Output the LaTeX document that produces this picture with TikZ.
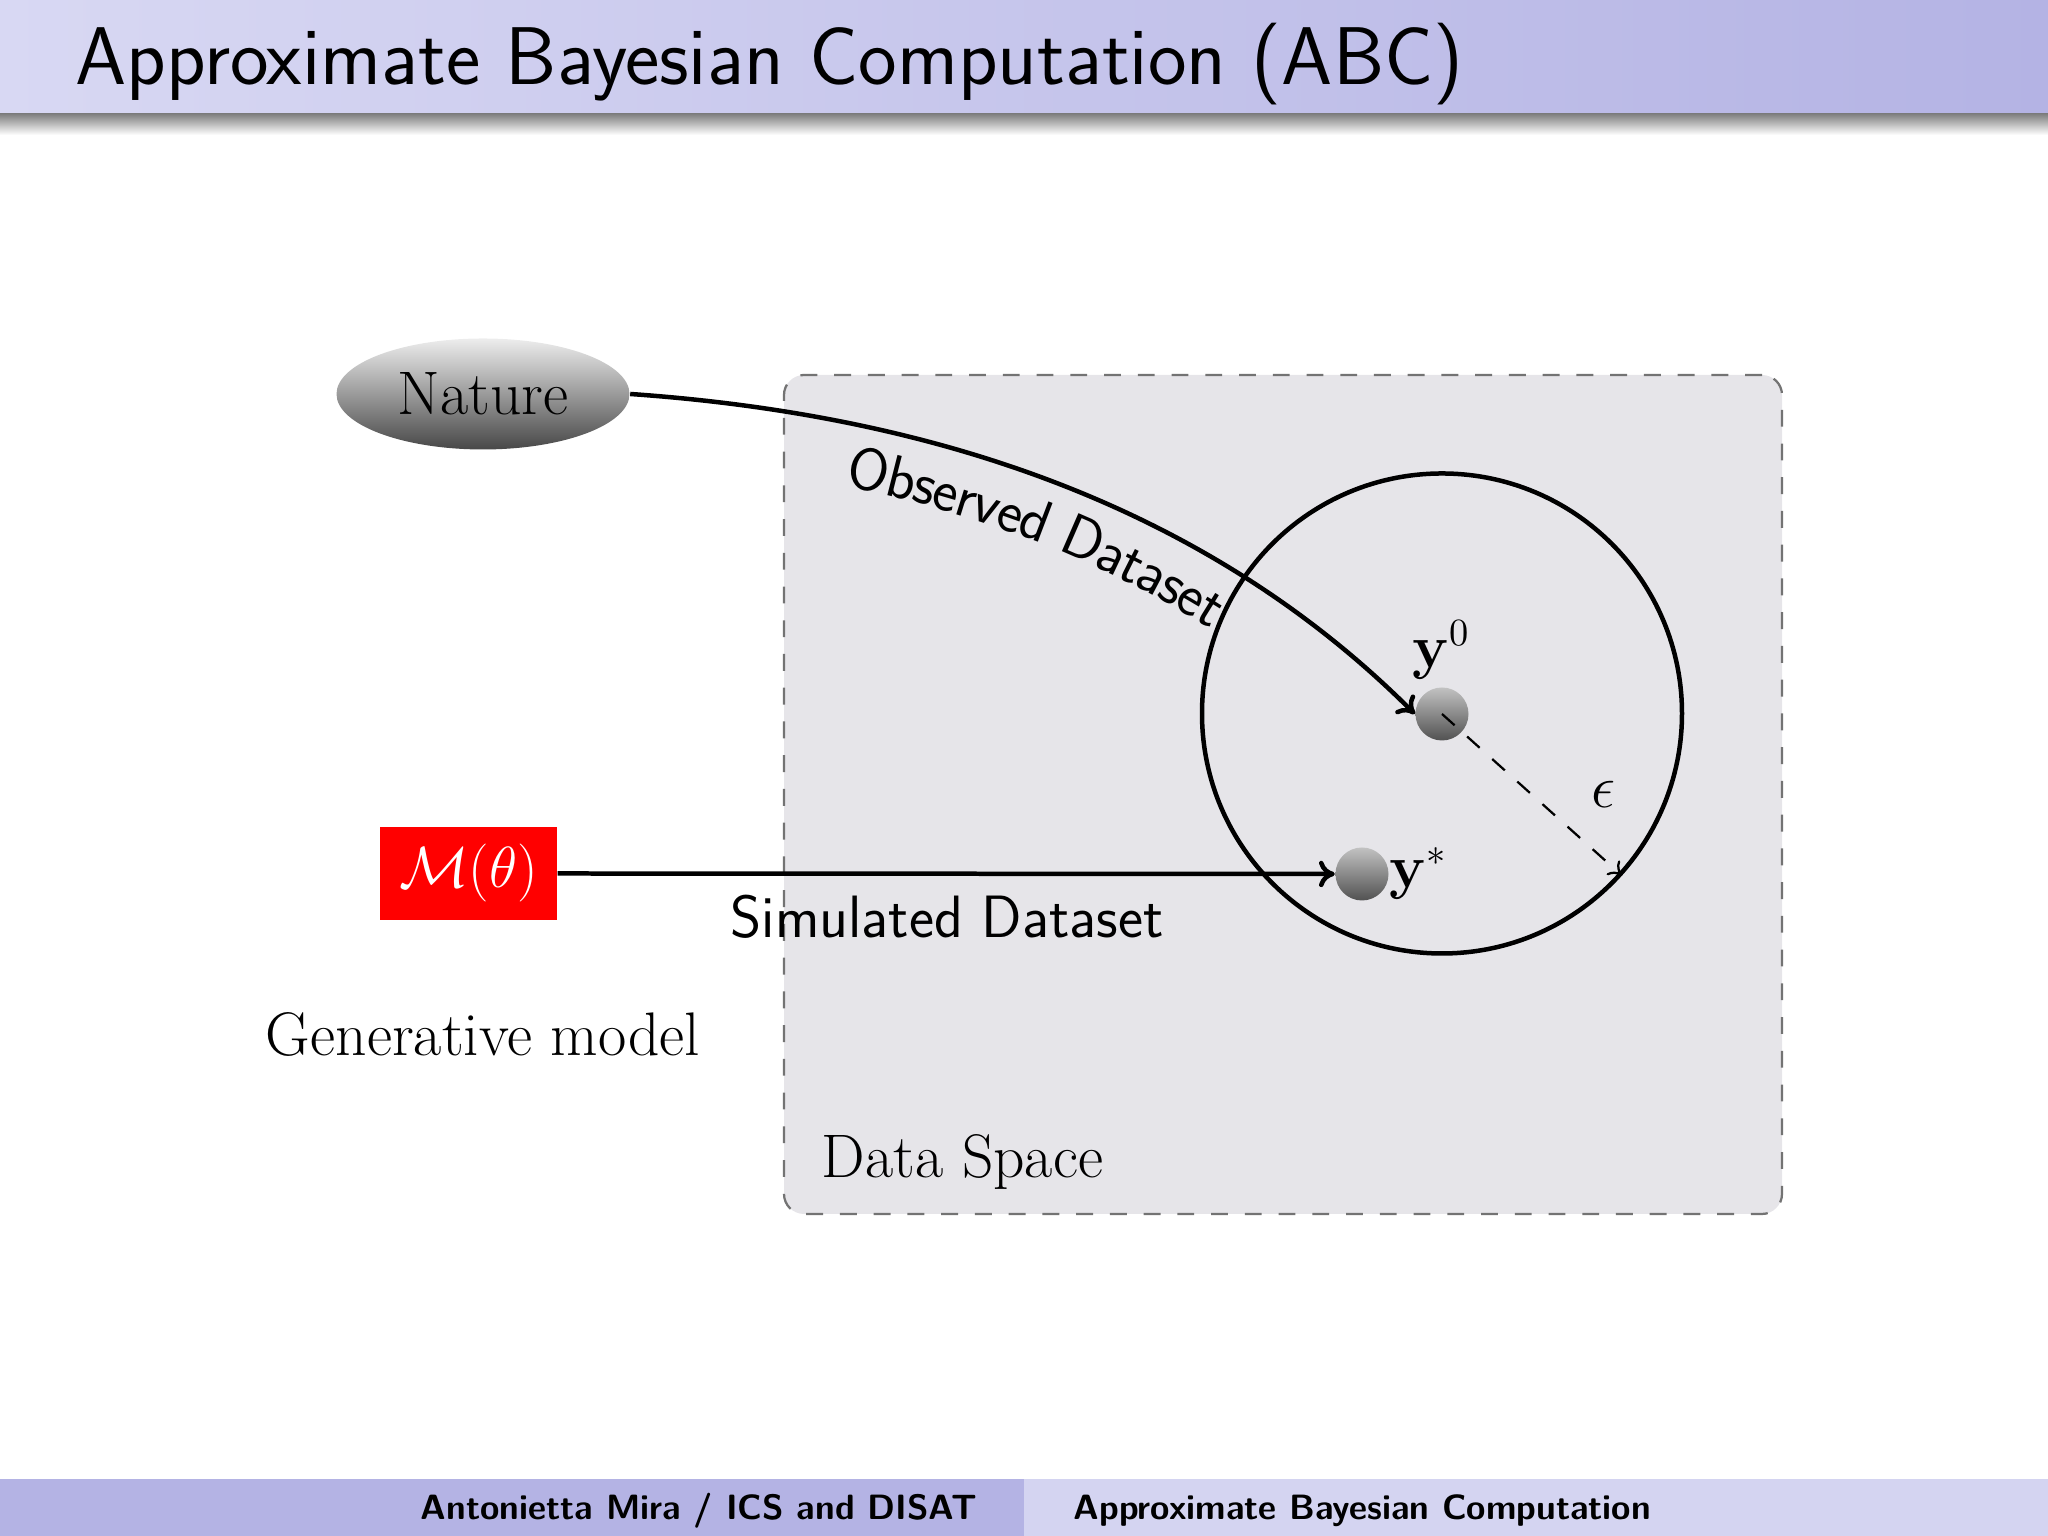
\documentclass[tikz,border=0pt]{standalone}
\usepackage{xcolor}
\usepackage{tikz}
\usetikzlibrary{shapes,arrows,arrows.meta,positioning,decorations.text}

\definecolor{barlight}{HTML}{D8D8F3}
\definecolor{bardark}{HTML}{B4B3E4}
\definecolor{spacegray}{HTML}{E6E5E9}

\tikzset{
    bigtext/.style={font=\fontsize{17.5}{21}\selectfont},
    mathtext/.style={font=\fontsize{16}{19}\selectfont},
    sanstext/.style={font=\fontsize{17}{21}\selectfont\sffamily},
    footertext/.style={font=\fontsize{10}{12}\selectfont\sffamily\bfseries, anchor=base west},
    flow/.style={-{To[length=4.5pt,width=7.5pt]}, line width=1.28pt},
    naturecurve/.style={out=-4, in=135, looseness=0.9},
    ball/.style={circle, minimum size=0.53cm, inner sep=0pt, top color=black!24, bottom color=black!68}
}

\begin{document}
\begin{tikzpicture}
                \useasboundingbox (0,0) rectangle (20.48,15.36);

                % header and footer
                \shade[left color=barlight, right color=bardark] (0,14.22) rectangle (20.48,15.36);
                \shade[top color=black!50, bottom color=white] (0,14.01) rectangle (20.48,14.22);
                \node[anchor=base west, inner sep=0pt, font=\fontsize{23.3}{28}\selectfont\sffamily] (title) at (0.75,14.51) {Approximate Bayesian Computation (ABC)};

                \fill[bardark] (0,0) rectangle (10.24,0.57);
                \fill[barlight!90!bardark] (10.24,0) rectangle (20.48,0.57);
                \node[footertext, inner sep=0pt] (author) at (4.2,0.16) {Antonietta Mira / ICS and DISAT};
                \node[footertext, inner sep=0pt] (talk) at (10.73,0.16) {Approximate Bayesian Computation};

                % data space
                \node[
                    draw=black!55,
                    fill=spacegray,
                    dashed,
                    dash pattern=on 4.8pt off 4.8pt,
                    line width=0.64pt,
                    rounded corners=0.2cm,
                    minimum width=9.98cm,
                    minimum height=8.39cm
                ] (space) at (12.83,7.415) {};
                \node[draw, circle, line width=1.28pt, minimum size=4.8cm] (ring) at (14.42,8.225) {};

                \node[ball] (dotzero) at (14.42,8.22) {};
                \node[ball] (dotstar) at (13.62,6.62) {};

                % sources
                \node[
                    ellipse,
                    bigtext,
                    inner sep=0pt,
                    minimum width=2.93cm,
                    minimum height=1.11cm,
                    top color=black!7,
                    bottom color=black!72
                ] (nature) at (4.83,11.42) {Nature};
                \node[
                    mathtext,
                    fill=red,
                    text=white,
                    inner sep=0pt,
                    minimum width=1.77cm,
                    minimum height=0.93cm
                ] (model) at (4.685,6.625) {\raisebox{-0.03cm}{\scalebox{0.955}{$\mathcal{M}(\theta)$}}};

                % connectors
                \draw[flow] (nature.east) to [naturecurve] (dotzero.west);
                \draw[flow] (model.east) -- (dotstar.west);
                \draw[
                    -{To[length=3.6pt,width=5.5pt]},
                    dashed,
                    dash pattern=on 4.8pt off 4.8pt,
                    line width=0.64pt
                ] (dotzero.center) -- (ring.-42);

                % labels
                \path[
                    decorate,
                    decoration={
                        text along path,
                        raise=-0.62cm,
                        text align={left indent=2.3cm},
                        text={|\fontsize{17}{21}\selectfont\sffamily|Observed Dataset}
                    }
                ] (nature.east) to [naturecurve] (dotzero.west);
                \node[sanstext, anchor=base west, inner sep=0pt] (simulated) at (7.3,5.98) {Simulated Dataset};
                \node[bigtext, anchor=base, inner sep=0pt] (generative) at (4.83,4.80) {Generative model};
                \node[bigtext, anchor=base west, inner sep=0pt] (dataspace) at (8.21,3.58) {Data Space};
                \node[mathtext, inner sep=0pt] (labelzero) at (14.41,8.86) {$\mathbf{y}^0$};
                \node[mathtext, anchor=base west, inner sep=0pt] (labelstar) at (13.89,6.48) {$\mathbf{y}^*$};
                \node[mathtext, inner sep=0pt] (labeleps) at (16.03,7.42) {$\epsilon$};

            \end{tikzpicture}
\end{document}
